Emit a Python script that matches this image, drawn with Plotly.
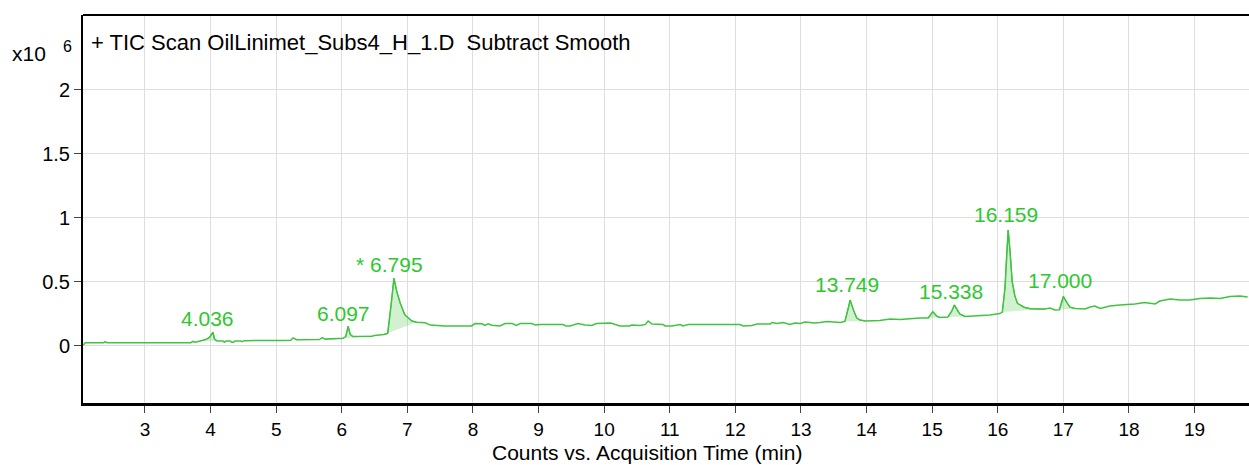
import numpy as np
import plotly.graph_objects as go

# TIC trace, counts in units of 1e6
times = [
    2.06, 2.09, 2.37, 2.39, 2.42, 3.70, 3.73, 3.77, 3.84, 3.92, 3.98, 4.01, 4.036, 4.06, 4.10,
    4.19, 4.21, 4.24, 4.30, 4.32, 4.35, 4.37, 4.46, 4.48, 4.51, 5.10, 5.22, 5.26, 5.31, 5.66,
    5.70, 5.75, 6.02, 6.06, 6.097, 6.13, 6.17, 6.46, 6.50, 6.64, 6.70, 6.75, 6.795, 6.84, 6.89,
    6.96, 7.07, 7.14, 7.27, 7.35, 7.57, 7.98, 8.03, 8.14, 8.18, 8.23, 8.29, 8.41, 8.49, 8.60,
    8.66, 8.72, 8.90, 8.95, 9.02, 9.37, 9.42, 9.48, 9.60, 9.71, 9.81, 9.88, 10.03, 10.10, 10.24,
    10.39, 10.42, 10.55, 10.63, 10.67, 10.73, 10.90, 10.93, 11.03, 11.16, 11.20, 11.28, 12.07,
    12.12, 12.25, 12.33, 12.53, 12.56, 12.63, 12.73, 12.83, 12.91, 12.99, 13.06, 13.14, 13.21,
    13.29, 13.40, 13.60, 13.67, 13.73, 13.749, 13.80, 13.85, 13.90, 13.98, 14.20, 14.36, 14.51,
    14.66, 14.81, 14.94, 15.01, 15.07, 15.12, 15.24, 15.30, 15.338, 15.42, 15.50, 15.65, 15.88,
    16.03, 16.07, 16.11, 16.14, 16.159, 16.19, 16.22, 16.26, 16.30, 16.40, 16.50, 16.64, 16.72,
    16.80, 16.87, 16.94, 17.000, 17.05, 17.10, 17.18, 17.33, 17.41, 17.48, 17.56, 17.71, 17.86,
    18.09, 18.24, 18.40, 18.47, 18.63, 18.78, 18.93, 19.08, 19.24, 19.39, 19.54, 19.69, 19.81,
]
counts = [
    0.004, 0.022, 0.022, 0.030, 0.022, 0.022, 0.032, 0.026, 0.036, 0.046, 0.062, 0.085, 0.104, 0.050, 0.036,
    0.036, 0.026, 0.036, 0.036, 0.026, 0.026, 0.036, 0.036, 0.030, 0.038, 0.039, 0.041, 0.060, 0.046, 0.047,
    0.062, 0.050, 0.056, 0.070, 0.150, 0.085, 0.070, 0.072, 0.078, 0.086, 0.095, 0.310, 0.526, 0.420, 0.333,
    0.240, 0.192, 0.182, 0.178, 0.160, 0.153, 0.153, 0.172, 0.170, 0.158, 0.170, 0.158, 0.153, 0.172, 0.172,
    0.158, 0.172, 0.172, 0.160, 0.164, 0.164, 0.153, 0.153, 0.172, 0.160, 0.157, 0.172, 0.172, 0.176, 0.153,
    0.153, 0.160, 0.157, 0.165, 0.192, 0.168, 0.164, 0.153, 0.153, 0.164, 0.153, 0.164, 0.164,
    0.153, 0.157, 0.168, 0.168, 0.180, 0.172, 0.180, 0.164, 0.176, 0.172, 0.184, 0.180, 0.176,
    0.180, 0.188, 0.180, 0.188, 0.309, 0.356, 0.278, 0.215, 0.200, 0.192, 0.196, 0.207, 0.204,
    0.211, 0.215, 0.215, 0.265, 0.230, 0.219, 0.223, 0.270, 0.317, 0.247, 0.227, 0.231, 0.239,
    0.250, 0.262, 0.450, 0.760, 0.904, 0.720, 0.500, 0.390, 0.330, 0.300, 0.288, 0.286, 0.286,
    0.294, 0.278, 0.280, 0.384, 0.340, 0.300, 0.290, 0.286, 0.301, 0.309, 0.290, 0.309, 0.317,
    0.325, 0.337, 0.325, 0.348, 0.364, 0.356, 0.356, 0.368, 0.372, 0.368, 0.384, 0.387, 0.380,
]

# integrated peak windows (start, end) in minutes
peak_windows = [
    (3.84, 4.10), (6.02, 6.46), (6.64, 7.14), (13.67, 13.98),
    (14.94, 15.12), (15.24, 15.50), (16.07, 16.72), (16.94, 17.18),
]

# peak labels and where their text sits
label_texts = ["4.036", "6.097", "* 6.795", "13.749", "15.338", "16.159", "17.000"]
label_x = [3.96, 6.03, 6.73, 13.70, 15.29, 16.13, 16.95]
label_y = [0.215, 0.254, 0.638, 0.481, 0.419, 1.022, 0.505]

x_ticks = list(range(3, 20))
y_ticks = [0, 0.5, 1, 1.5, 2]
y_tick_text = ["0", "0.5", "1", "1.5", "2"]

GREEN = "rgb(65,195,65)"
FILL = "rgba(70,200,70,0.25)"
TEXT_GREEN = "rgb(45,200,45)"
FONT = "Liberation Sans, Arial, sans-serif"

t = np.array(times)
c = np.array(counts)

fig = go.Figure()
for start, end in peak_windows:
    m = (t >= start - 1e-9) & (t <= end + 1e-9)
    fig.add_trace(go.Scatter(
        x=t[m], y=c[m], mode="lines", fill="toself", fillcolor=FILL,
        line=dict(color=GREEN, width=1), hoverinfo="skip", showlegend=False,
    ))

fig.add_trace(go.Scatter(
    x=t, y=c, mode="lines", line=dict(color=GREEN, width=1.5), showlegend=False,
    hovertemplate="%{x:.3f} min<br>%{y:.3f} x10^6<extra></extra>",
))

for txt, lx, ly in zip(label_texts, label_x, label_y):
    fig.add_annotation(x=lx, y=ly, text=txt, showarrow=False, xanchor="center", yanchor="middle",
                       font=dict(family=FONT, size=21, color=TEXT_GREEN))

fig.add_annotation(xref="paper", yref="paper", x=0.005, y=0.928, xanchor="left", yanchor="middle",
                   text="+ TIC Scan OilLinimet_Subs4_H_1.D&nbsp;&nbsp;Subtract Smooth", showarrow=False,
                   font=dict(family=FONT, size=22, color="black"))
fig.add_annotation(xref="paper", yref="paper", x=-0.0463, y=0.8995, xanchor="center", yanchor="middle",
                   text="x10", showarrow=False, font=dict(family=FONT, size=21, color="black"))
fig.add_annotation(xref="paper", yref="paper", x=-0.0137, y=0.9200, xanchor="center", yanchor="middle",
                   text="6", showarrow=False, font=dict(family=FONT, size=16, color="black"))
fig.add_annotation(xref="paper", yref="paper", x=0.484, y=-0.128, xanchor="center", yanchor="middle",
                   text="Counts vs. Acquisition Time (min)", showarrow=False,
                   font=dict(family=FONT, size=21, color="black"))

# top border
fig.add_shape(type="line", xref="paper", yref="paper", x0=0, x1=1, y0=1, y1=1,
              line=dict(color="black", width=2))

fig.update_xaxes(
    range=[2.055, 19.83], tickvals=x_ticks, ticks="outside", ticklen=7, tickcolor="#444",
    showgrid=True, gridcolor="#dedede", gridwidth=1, showline=True, linecolor="black", linewidth=3,
    zeroline=False, tickfont=dict(family=FONT, size=19, color="black"),
)
fig.update_yaxes(
    range=[-0.45, 2.587], tickvals=y_ticks, ticktext=y_tick_text, ticks="outside", ticklen=7,
    tickcolor="#444", showgrid=True, gridcolor="#dedede", gridwidth=1, showline=True,
    linecolor="black", linewidth=2, zeroline=False, tickfont=dict(family=FONT, size=20, color="black"),
)
fig.update_layout(
    width=1249, height=465, template="plotly_white", plot_bgcolor="white", paper_bgcolor="white",
    margin=dict(l=83, r=0, t=15, b=62), showlegend=False,
)

# drop the default page margin so the figure sits flush in the window
fig.write_html(
    "out.html",
    config={"displayModeBar": False},
    post_script="document.body.style.margin='0';document.body.style.overflow='hidden';",
)
